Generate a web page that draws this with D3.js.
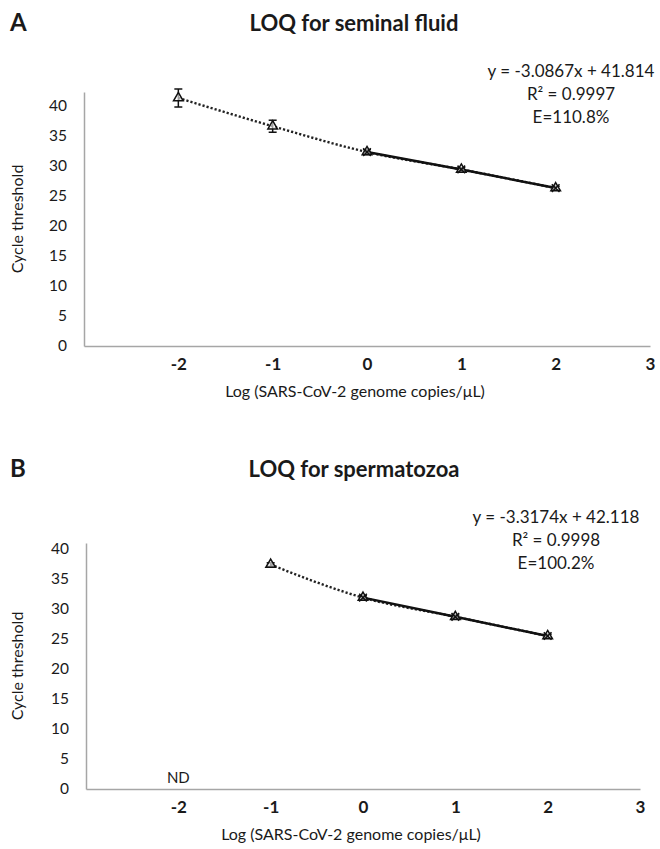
<!DOCTYPE html>
<html lang="en">
<head>
<meta charset="UTF-8">
<title>LOQ charts</title>
<script src="https://d3js.org/d3.v7.min.js"></script>
<style>
  body { margin: 0; background: #fff; }
  svg text { font-family: Lato, "Noto Sans", sans-serif; fill: #1a1a1a; }
</style>
</head>
<body>
<svg id="chart" width="660" height="849"></svg>
<script>
// axis ticks
const xTicks = [-2, -1, 0, 1, 2, 3];
const yTicks = [0, 5, 10, 15, 20, 25, 30, 35, 40];

// A: seminal fluid
const fluidLog = [-2, -1, 0, 1, 2];
const fluidCt = [41.3, 36.6, 32.3, 29.4, 26.3];
const fluidErr = [1.5, 1.0, 0.4, 0.3, 0.3];
const fluidEq = ["y = -3.0867x + 41.814", "R² = 0.9997", "E=110.8%"];

// B: spermatozoa
const spermLog = [-1, 0, 1, 2];
const spermCt = [37.4, 31.9, 28.7, 25.5];
const spermErr = [0.3, 0.3, 0.3, 0.3];
const spermEq = ["y = -3.3174x + 42.118", "R² = 0.9998", "E=100.2%"];

// linear range (solid line + x markers)
const linearLog = [0, 1, 2];

const svg = d3.select("#chart");

function drawPanel(o) {
  const g = svg.append("g");
  const x = d3.scaleLinear().domain([-3, 3]).range([o.left, o.right]);
  const y = d3.scaleLinear().domain([0, o.yMax]).range([o.bottom, o.top]);

  // letter + title
  g.append("text").attr("x", 10).attr("y", o.titleY)
    .attr("font-size", 24).attr("font-weight", "bold").text(o.letter);
  g.append("text").attr("x", 354).attr("y", o.titleY).attr("text-anchor", "middle")
    .attr("font-size", 22).attr("font-weight", "bold").text(o.title);

  // axes
  const ya = g.append("g").attr("transform", `translate(${o.left},0)`)
    .call(d3.axisLeft(y).tickValues(yTicks).tickSize(0).tickPadding(17));
  ya.select(".domain").attr("stroke", "#a6a6a6").attr("stroke-width", 1.5);
  ya.selectAll("text").attr("font-size", 15.5).attr("font-family", "Lato").attr("fill", "#1a1a1a");

  const xa = g.append("g").attr("transform", `translate(0,${o.bottom})`)
    .call(d3.axisBottom(x).tickValues(xTicks).tickSize(0).tickPadding(12)
      .tickFormat(d => String(d)));
  xa.select(".domain").attr("stroke", "#a6a6a6").attr("stroke-width", 1.5);
  xa.selectAll("text").attr("font-size", 17).attr("font-weight", "bold")
    .attr("font-family", "Lato").attr("fill", "#1a1a1a");

  // axis titles
  g.append("text").attr("x", (o.left + o.right) / 2 - 12).attr("y", o.bottom + 51)
    .attr("text-anchor", "middle").attr("font-size", 16)
    .text("Log (SARS-CoV-2 genome copies/μL)");
  g.append("text")
    .attr("transform", `translate(23,${(o.top + o.bottom) / 2}) rotate(-90)`)
    .attr("text-anchor", "middle").attr("font-size", 16).text("Cycle threshold");

  // equation
  o.eq.forEach((t, i) => {
    g.append("text").attr("x", o.eqX).attr("y", o.eqY + i * 23)
      .attr("text-anchor", "middle").attr("font-size", 17).text(t);
  });

  const pts = o.xs.map((v, i) => ({ x: v, y: o.ys[i], e: o.err[i] }));
  const lin = pts.filter(p => linearLog.includes(p.x));

  // dotted trendline
  g.append("path").datum(pts)
    .attr("d", d3.line().x(d => x(d.x)).y(d => y(d.y)).curve(d3.curveMonotoneX))
    .attr("fill", "none").attr("stroke", "#222").attr("stroke-width", 2.4)
    .attr("stroke-dasharray", "2.2,2");

  // solid line over linear range
  g.append("path").datum(lin)
    .attr("d", d3.line().x(d => x(d.x)).y(d => y(d.y)))
    .attr("fill", "none").attr("stroke", "#111").attr("stroke-width", 2.5);

  // error bars
  const eb = g.selectAll(".eb").data(pts).join("g");
  eb.append("line").attr("x1", d => x(d.x)).attr("x2", d => x(d.x))
    .attr("y1", d => y(d.y - d.e)).attr("y2", d => y(d.y + d.e));
  [1, -1].forEach(s => {
    eb.append("line").attr("x1", d => x(d.x) - 4).attr("x2", d => x(d.x) + 4)
      .attr("y1", d => y(d.y + s * d.e)).attr("y2", d => y(d.y + s * d.e));
  });
  eb.selectAll("line").attr("stroke", "#111").attr("stroke-width", 1.5);

  // markers
  g.selectAll(".tri").data(pts).join("path")
    .attr("transform", d => `translate(${x(d.x)},${y(d.y)})`)
    .attr("d", d3.symbol(d3.symbolTriangle, 40))
    .attr("fill", "#fff").attr("fill-opacity", 0.6)
    .attr("stroke", "#111").attr("stroke-width", 1.5);
  g.selectAll(".xm").data(lin).join("path")
    .attr("transform", d => `translate(${x(d.x)},${y(d.y)})`)
    .attr("d", d3.symbol(d3.symbolTimes, 40))
    .attr("fill", "none").attr("stroke", "#111").attr("stroke-width", 1.5);

  if (o.nd) {
    g.append("text").attr("x", x(-2)).attr("y", o.bottom - 6)
      .attr("text-anchor", "middle").attr("font-size", 15).text("ND");
  }
}

drawPanel({
  letter: "A", title: "LOQ for seminal fluid", titleY: 31,
  left: 84, right: 650, top: 92, bottom: 346, yMax: 42.3,
  xs: fluidLog, ys: fluidCt, err: fluidErr,
  eq: fluidEq, eqX: 571, eqY: 77, nd: false
});

drawPanel({
  letter: "B", title: "LOQ for spermatozoa", titleY: 477,
  left: 86, right: 640, top: 543, bottom: 789, yMax: 41,
  xs: spermLog, ys: spermCt, err: spermErr,
  eq: spermEq, eqX: 556, eqY: 523, nd: true
});
</script>
</body>
</html>
